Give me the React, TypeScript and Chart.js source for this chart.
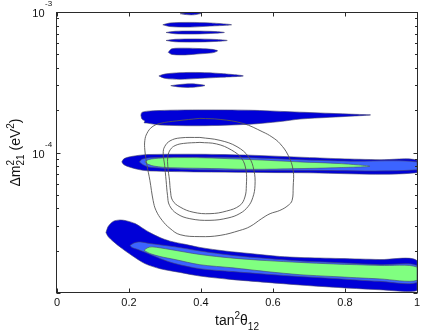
import React, { useEffect, useRef } from 'react';
import { Chart, registerables } from 'chart.js';

Chart.register(...registerables);

type P = [number, number]; // [tan^2 theta12, dm2_21 (eV^2)]

// ---- LMA-low region (three CL levels) ----
const lowOuter: P[] = [
  [0.136, 2.69e-5], [0.142, 2.97e-5], [0.156, 3.23e-5], [0.175, 3.31e-5], [0.194, 3.26e-5],
  [0.217, 3.12e-5], [0.239, 2.88e-5], [0.258, 2.69e-5], [0.286, 2.48e-5], [0.314, 2.34e-5],
  [0.356, 2.22e-5], [0.397, 2.11e-5], [0.467, 1.99e-5], [0.536, 1.91e-5], [0.619, 1.82e-5],
  [0.675, 1.79e-5], [0.786, 1.76e-5], [0.897, 1.73e-5], [1.0, 1.70e-5],
  [1.0, 1.04e-5], [0.897, 1.055e-5], [0.767, 1.10e-5], [0.675, 1.14e-5], [0.583, 1.19e-5],
  [0.481, 1.25e-5], [0.397, 1.32e-5], [0.342, 1.40e-5], [0.286, 1.49e-5], [0.244, 1.62e-5],
  [0.208, 1.85e-5], [0.181, 2.07e-5], [0.156, 2.33e-5], [0.142, 2.52e-5], [0.136, 2.69e-5],
];
const lowMid: P[] = [
  [0.203, 2.18e-5], [0.214, 2.27e-5], [0.231, 2.31e-5], [0.258, 2.25e-5], [0.328, 2.13e-5],
  [0.397, 1.99e-5], [0.489, 1.85e-5], [0.583, 1.76e-5], [0.675, 1.69e-5], [0.767, 1.65e-5],
  [0.897, 1.59e-5], [1.0, 1.57e-5],
  [1.0, 1.19e-5], [0.897, 1.21e-5], [0.767, 1.27e-5], [0.675, 1.31e-5], [0.583, 1.36e-5],
  [0.489, 1.42e-5], [0.397, 1.49e-5], [0.328, 1.62e-5], [0.286, 1.76e-5], [0.253, 1.91e-5],
  [0.225, 2.04e-5], [0.208, 2.11e-5], [0.203, 2.18e-5],
];
const lowInner: P[] = [
  [0.242, 2.01e-5], [0.25, 2.09e-5], [0.264, 2.13e-5], [0.314, 2.04e-5], [0.397, 1.88e-5],
  [0.489, 1.77e-5], [0.583, 1.70e-5], [0.675, 1.65e-5], [0.767, 1.61e-5], [0.897, 1.57e-5],
  [1.0, 1.53e-5],
  [1.0, 1.23e-5], [0.897, 1.26e-5], [0.767, 1.31e-5], [0.675, 1.35e-5], [0.583, 1.42e-5],
  [0.489, 1.51e-5], [0.397, 1.59e-5], [0.328, 1.73e-5], [0.286, 1.82e-5], [0.258, 1.91e-5],
  [0.242, 2.01e-5],
];

// ---- LMA region near 8e-5 ----
const lmaOuter: P[] = [
  [0.180, 8.57e-5], [0.186, 9.03e-5], [0.203, 9.33e-5], [0.231, 9.57e-5], [0.258, 9.68e-5],
  [0.397, 9.72e-5], [0.536, 9.57e-5], [0.675, 9.26e-5], [0.786, 9.03e-5], [0.897, 8.88e-5],
  [1.0, 8.81e-5],
  [1.0, 7.18e-5], [0.675, 7.18e-5], [0.397, 7.27e-5], [0.258, 7.39e-5], [0.231, 7.53e-5],
  [0.203, 7.85e-5], [0.186, 8.18e-5], [0.180, 8.57e-5],
];
const lmaMid: P[] = [
  [0.229, 8.57e-5], [0.236, 8.95e-5], [0.258, 9.18e-5], [0.397, 9.26e-5], [0.536, 9.18e-5],
  [0.675, 8.88e-5], [0.814, 8.67e-5], [1.0, 8.57e-5],
  [1.0, 7.53e-5], [0.675, 7.47e-5], [0.536, 7.47e-5], [0.397, 7.53e-5], [0.258, 7.85e-5],
  [0.239, 8.18e-5], [0.229, 8.57e-5],
];
const lmaInner: P[] = [
  [0.244, 8.57e-5], [0.253, 8.88e-5], [0.272, 9.06e-5], [0.314, 9.18e-5], [0.397, 9.18e-5],
  [0.536, 8.91e-5], [0.675, 8.57e-5], [0.786, 8.34e-5], [0.869, 7.98e-5],
  [0.786, 7.81e-5], [0.675, 7.68e-5], [0.536, 7.59e-5], [0.397, 7.72e-5], [0.314, 7.79e-5],
  [0.272, 7.98e-5], [0.253, 8.24e-5], [0.244, 8.57e-5],
];

// ---- upper island near 1.8e-4 ----
const upperIsland: P[] = [
  [0.233, 1.85e-4], [0.236, 1.93e-4], [0.253, 1.97e-4], [0.314, 2.00e-4], [0.397, 2.01e-4],
  [0.536, 2.00e-4], [0.647, 1.95e-4], [0.758, 1.90e-4], [0.828, 1.87e-4], [0.871, 1.85e-4],
  [0.828, 1.82e-4], [0.758, 1.78e-4], [0.675, 1.73e-4], [0.619, 1.66e-4], [0.536, 1.59e-4],
  [0.397, 1.55e-4], [0.286, 1.57e-4], [0.25, 1.62e-4], [0.242, 1.63e-4], [0.244, 1.67e-4],
  [0.236, 1.73e-4], [0.233, 1.85e-4],
];

// ---- thin high-dm2 islands ----
const sliver1: P[] = [[0.342, 9.72e-4], [0.36, 9.86e-4], [0.38, 9.90e-4], [0.4, 9.78e-4], [0.38, 9.55e-4], [0.36, 9.58e-4], [0.342, 9.72e-4]];
const sliver2: P[] = [[0.294, 8.11e-4], [0.314, 8.36e-4], [0.369, 8.43e-4], [0.425, 8.36e-4], [0.485, 8.11e-4], [0.425, 7.94e-4], [0.369, 7.81e-4], [0.314, 7.88e-4], [0.294, 8.11e-4]];
const sliver3: P[] = [[0.303, 7.15e-4], [0.328, 7.29e-4], [0.383, 7.32e-4], [0.439, 7.26e-4], [0.465, 7.15e-4], [0.439, 7.06e-4], [0.383, 6.97e-4], [0.328, 7.00e-4], [0.303, 7.15e-4]];
const sliver4: P[] = [[0.303, 6.27e-4], [0.328, 6.39e-4], [0.383, 6.43e-4], [0.439, 6.38e-4], [0.473, 6.27e-4], [0.439, 6.17e-4], [0.383, 6.11e-4], [0.328, 6.14e-4], [0.303, 6.27e-4]];
const sliver5: P[] = [[0.309, 5.16e-4], [0.319, 5.47e-4], [0.356, 5.53e-4], [0.397, 5.49e-4], [0.431, 5.42e-4], [0.446, 5.29e-4], [0.431, 5.12e-4], [0.397, 5.04e-4], [0.356, 4.95e-4], [0.319, 4.99e-4], [0.309, 5.16e-4]];
const sliver6: P[] = [[0.283, 3.51e-4], [0.3, 3.62e-4], [0.342, 3.70e-4], [0.397, 3.71e-4], [0.453, 3.65e-4], [0.5175, 3.51e-4], [0.453, 3.43e-4], [0.397, 3.37e-4], [0.342, 3.32e-4], [0.3, 3.37e-4], [0.283, 3.51e-4]];
const sliver7: P[] = [[0.316, 2.99e-4], [0.342, 3.05e-4], [0.375, 3.08e-4], [0.411, 3.00e-4], [0.375, 2.91e-4], [0.342, 2.92e-4], [0.316, 2.99e-4]];

// ---- gray contour lines ----
const contourOuter: P[] = [
  [0.397, 1.75e-4], [0.453, 1.72e-4], [0.517, 1.61e-4], [0.572, 1.40e-4], [0.597, 1.29e-4],
  [0.619, 1.16e-4], [0.642, 9.57e-5], [0.656, 7.47e-5], [0.656, 5.68e-5], [0.653, 4.56e-5],
  [0.642, 4.20e-5], [0.619, 3.87e-5], [0.592, 3.67e-5], [0.569, 3.39e-5], [0.536, 2.97e-5],
  [0.508, 2.79e-5], [0.453, 2.57e-5], [0.397, 2.52e-5], [0.342, 2.60e-5], [0.314, 2.88e-5],
  [0.292, 3.29e-5], [0.275, 3.87e-5], [0.267, 4.56e-5], [0.258, 6.34e-5], [0.25, 8.11e-5],
  [0.244, 1.04e-4], [0.244, 1.22e-4], [0.25, 1.37e-4], [0.264, 1.52e-4], [0.286, 1.61e-4],
  [0.333, 1.68e-4], [0.397, 1.75e-4],
];
const contourMid: P[] = [
  [0.397, 1.28e-4], [0.453, 1.22e-4], [0.5, 1.10e-4], [0.533, 9.26e-5], [0.547, 7.47e-5],
  [0.55, 5.84e-5], [0.544, 4.79e-5], [0.531, 4.13e-5], [0.508, 3.68e-5], [0.475, 3.42e-5],
  [0.425, 3.29e-5], [0.369, 3.38e-5], [0.333, 3.67e-5], [0.3125, 4.20e-5], [0.307, 4.95e-5],
  [0.303, 6.34e-5], [0.299, 8.11e-5], [0.295, 9.89e-5], [0.299, 1.10e-4], [0.314, 1.21e-4],
  [0.342, 1.27e-4], [0.397, 1.28e-4],
];
const contourInner: P[] = [
  [0.397, 1.18e-4], [0.4436, 1.15e-4], [0.485, 1.04e-4], [0.513, 9.06e-5], [0.525, 7.47e-5],
  [0.526, 5.84e-5], [0.522, 4.82e-5], [0.508, 4.20e-5], [0.471, 3.83e-5], [0.425, 3.67e-5],
  [0.378, 3.76e-5], [0.342, 4.09e-5], [0.321, 4.56e-5], [0.315, 5.38e-5], [0.3125, 6.34e-5],
  [0.308, 7.89e-5], [0.308, 9.41e-5], [0.315, 1.05e-4], [0.328, 1.12e-4], [0.351, 1.16e-4],
  [0.397, 1.18e-4],
];

// ---- axes ----
const X_TICKS = [0, 0.2, 0.4, 0.6, 0.8, 1];
const X_TICK_LABELS = ['0', '0.2', '0.4', '0.6', '0.8', '1'];
const Y_MIN = 1e-5;
const Y_MAX = 1e-3;
const Y_DECADES = [1e-5, 1e-4];
const Y_MINOR_MANTISSAS = [2, 3, 4, 5, 6, 7, 8, 9];
const Y_LABEL_VALUES = [1e-4, 1e-3];
const Y_LABEL_EXPONENTS = ['-4', '-3'];

const DARK_BLUE = 'rgb(0,0,215)';
const MID_BLUE = 'rgb(60,100,255)';
const GREEN = 'rgb(128,255,128)';
const EDGE = 'rgba(70,70,110,0.85)';
const CONTOUR = 'rgb(85,85,85)';
const FONT = '"Liberation Sans", Arial, Helvetica, sans-serif';

export default function App() {
  const ref = useRef<HTMLCanvasElement>(null);

  useEffect(() => {
    const layers: { pts: P[]; fill: string | null; tension: number }[] = [
      { pts: lowOuter, fill: DARK_BLUE, tension: 0.3 },
      { pts: lowMid, fill: MID_BLUE, tension: 0.3 },
      { pts: lowInner, fill: GREEN, tension: 0.3 },
      { pts: lmaOuter, fill: DARK_BLUE, tension: 0.3 },
      { pts: lmaMid, fill: MID_BLUE, tension: 0.3 },
      { pts: lmaInner, fill: GREEN, tension: 0.3 },
      { pts: upperIsland, fill: DARK_BLUE, tension: 0.3 },
      { pts: sliver1, fill: DARK_BLUE, tension: 0.3 },
      { pts: sliver2, fill: DARK_BLUE, tension: 0.3 },
      { pts: sliver3, fill: DARK_BLUE, tension: 0.3 },
      { pts: sliver4, fill: DARK_BLUE, tension: 0.3 },
      { pts: sliver5, fill: DARK_BLUE, tension: 0.3 },
      { pts: sliver6, fill: DARK_BLUE, tension: 0.3 },
      { pts: sliver7, fill: DARK_BLUE, tension: 0.3 },
      { pts: contourOuter, fill: null, tension: 0.4 },
      { pts: contourMid, fill: null, tension: 0.4 },
      { pts: contourInner, fill: null, tension: 0.4 },
    ];
    const n = layers.length;
    const datasets = layers.map((l, i) => ({
      data: l.pts.map(([x, y]) => ({ x, y })),
      showLine: true,
      fill: l.fill ? 'shape' : false,
      backgroundColor: l.fill || 'rgba(0,0,0,0)',
      borderColor: l.fill ? EDGE : CONTOUR,
      borderWidth: l.fill ? 0.7 : 0.9,
      pointRadius: 0,
      pointHoverRadius: 0,
      tension: l.tension,
      order: n - i,
    }));

    const axesPlugin = {
      id: 'matlabAxes',
      afterDraw(chart: any) {
        const { ctx, chartArea: a, scales } = chart;
        const xs = scales.x;
        const ys = scales.y;
        ctx.save();
        // frame
        ctx.strokeStyle = '#2a2a2a';
        ctx.lineWidth = 1;
        const L = a.left - 0.5, R = a.right + 0.5, T = a.top + 0.5, B = a.bottom - 0.5;
        ctx.strokeRect(L, T, R - L, B - T);
        // x ticks (inward, bottom and top)
        ctx.beginPath();
        X_TICKS.forEach((v) => {
          const px = Math.round(xs.getPixelForValue(v)) + 0.5;
          ctx.moveTo(px, B); ctx.lineTo(px, B - 4);
          ctx.moveTo(px, T); ctx.lineTo(px, T + 4);
        });
        // y ticks
        const yTick = (v: number, len: number) => {
          const py = Math.round(ys.getPixelForValue(v)) + 0.5;
          ctx.moveTo(L, py); ctx.lineTo(L + len, py);
          ctx.moveTo(R, py); ctx.lineTo(R - len, py);
        };
        Y_DECADES.forEach((d) => {
          yTick(d, 4);
          Y_MINOR_MANTISSAS.forEach((m) => yTick(m * d, 2.5));
        });
        yTick(Y_MAX, 4);
        ctx.stroke();

        // x tick labels
        ctx.fillStyle = '#111';
        ctx.font = `11px ${FONT}`;
        ctx.textAlign = 'center';
        ctx.textBaseline = 'top';
        X_TICKS.forEach((v, i) => {
          ctx.fillText(X_TICK_LABELS[i], xs.getPixelForValue(v), a.bottom + 4.5);
        });
        // y tick labels 10^e
        ctx.textBaseline = 'alphabetic';
        Y_LABEL_VALUES.forEach((v, i) => {
          const py = ys.getPixelForValue(v);
          ctx.font = `11px ${FONT}`;
          ctx.textAlign = 'right';
          ctx.fillText('10', a.left - 12.5, py + 5);
          ctx.font = `8px ${FONT}`;
          ctx.textAlign = 'left';
          ctx.fillText(Y_LABEL_EXPONENTS[i], a.left - 12, py - 6);
        });

        // rich text helper
        const big = `14px ${FONT}`;
        const small = `10px ${FONT}`;
        type Seg = { t: string; f: string; dy: number; adv?: boolean };
        const width = (segs: Seg[]) => {
          let w = 0;
          segs.forEach((s) => { ctx.font = s.f; if (s.adv !== false) w += ctx.measureText(s.t).width; });
          return w;
        };
        const draw = (segs: Seg[], x0: number) => {
          let x = x0;
          segs.forEach((s) => {
            ctx.font = s.f;
            ctx.fillText(s.t, x, s.dy);
            if (s.adv !== false) x += ctx.measureText(s.t).width;
          });
        };
        ctx.textAlign = 'left';
        // x title
        const xt: Seg[] = [
          { t: 'tan', f: big, dy: 0 },
          { t: '2', f: small, dy: -6 },
          { t: 'θ', f: big, dy: 0 },
          { t: '12', f: small, dy: 5 },
        ];
        ctx.save();
        ctx.translate((a.left + a.right) / 2, 325);
        draw(xt, -width(xt) / 2);
        ctx.restore();
        // y title
        const yt: Seg[] = [
          { t: 'Δm', f: big, dy: 0 },
          { t: '2', f: small, dy: -6, adv: false },
          { t: '21', f: small, dy: 4 },
          { t: ' (eV', f: big, dy: 0 },
          { t: '2', f: small, dy: -6 },
          { t: ')', f: big, dy: 0 },
        ];
        ctx.save();
        ctx.translate(20, (a.top + a.bottom) / 2);
        ctx.rotate(-Math.PI / 2);
        draw(yt, -width(yt) / 2);
        ctx.restore();
        ctx.restore();
      },
    };

    const chart = new Chart(ref.current as HTMLCanvasElement, {
      type: 'scatter',
      data: { datasets: datasets as any },
      options: {
        responsive: false,
        animation: false,
        devicePixelRatio: 1,
        events: [],
        layout: { padding: { left: 57, right: 6, top: 12, bottom: 43 } },
        plugins: { legend: { display: false }, tooltip: { enabled: false } },
        scales: {
          x: { type: 'linear', min: 0, max: 1, display: false },
          y: { type: 'logarithmic', min: Y_MIN, max: Y_MAX, display: false },
        },
      } as any,
      plugins: [axesPlugin],
    });
    return () => chart.destroy();
  }, []);

  return (
    <div style={{ position: 'fixed', left: 0, top: 0, width: 423, height: 336, background: '#fff' }}>
      <canvas ref={ref} width={423} height={336} style={{ display: 'block', width: 423, height: 336 }} />
    </div>
  );
}
